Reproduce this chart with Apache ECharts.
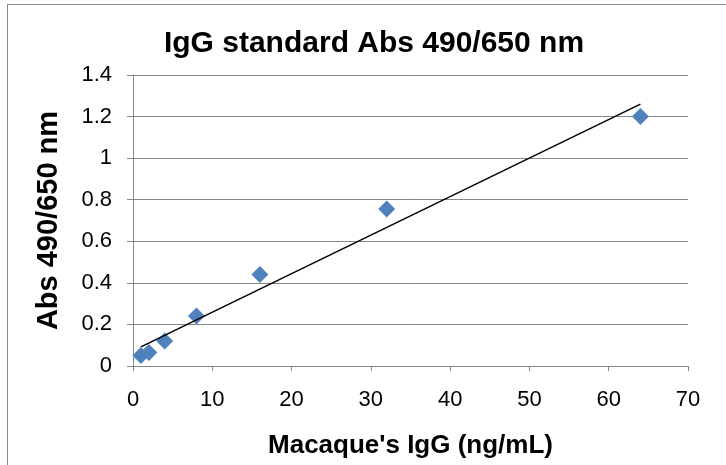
<!DOCTYPE html>
<html><head><meta charset="utf-8">
<script src="https://cdn.jsdelivr.net/npm/echarts@6/dist/echarts.min.js"></script>
<style>html,body{margin:0;padding:0;background:#fff}#c{width:726px;height:465px}
#frame{position:absolute;left:7px;top:4px;width:760px;height:520px;border:1px solid #8c8c8c;pointer-events:none}</style>
</head><body><div id="c"></div><div id="frame"></div>
<script>
const concentrations = [1, 2, 4, 8, 16, 32, 64];
const absorbance = [0.05, 0.065, 0.12, 0.24, 0.44, 0.755, 1.2];
const xTicks = [0, 10, 20, 30, 40, 50, 60, 70];
const yTicks = [0, 0.2, 0.4, 0.6, 0.8, 1, 1.2, 1.4];

// linear least-squares trendline from the data
const n = concentrations.length;
const mx = concentrations.reduce((a,b)=>a+b,0)/n;
const my = absorbance.reduce((a,b)=>a+b,0)/n;
let sxy=0, sxx=0;
for (let i=0;i<n;i++){ sxy+=(concentrations[i]-mx)*(absorbance[i]-my); sxx+=(concentrations[i]-mx)**2; }
const slope = sxy/sxx, intercept = my - slope*mx;
const xMin = Math.min(...concentrations), xMax = Math.max(...concentrations);
const trend = [[xMin, intercept+slope*xMin],[xMax, intercept+slope*xMax]];

const chart = echarts.init(document.getElementById('c'), null, {renderer:'canvas'});
const font = 'Liberation Sans, Arial, sans-serif';
chart.setOption({
  animation:false,
  backgroundColor:'#fff',
  title:{text:'IgG standard Abs 490/650 nm', left:369, top:24, textAlign:'center',
    textStyle:{fontFamily:font, fontSize:30, fontWeight:'bold', color:'#000'}},
  grid:{left:133, right:38, top:75, bottom:99, containLabel:false},
  xAxis:{type:'value', min:0, max:70, interval:10,
    name:"Macaque's IgG (ng/mL)", nameLocation:'middle', nameGap:67,
    nameTextStyle:{fontFamily:font, fontSize:26, fontWeight:'bold', color:'#000'},
    axisLine:{show:true, lineStyle:{color:'#868686', width:1}},
    axisTick:{show:true, length:5, lineStyle:{color:'#868686'}},
    axisLabel:{fontFamily:font, fontSize:22, color:'#000', margin:23,
      formatter:v=>xTicks.includes(v)?String(v):''},
    splitLine:{show:false}},
  yAxis:{type:'value', min:0, max:1.4, interval:0.2,
    name:'Abs 490/650 nm', nameLocation:'middle', nameGap:70, nameRotate:90,
    nameTextStyle:{fontFamily:font, fontSize:29, fontWeight:'bold', color:'#000'},
    axisLine:{show:true, lineStyle:{color:'#868686', width:1}},
    axisTick:{show:true, length:6, lineStyle:{color:'#868686'}},
    axisLabel:{fontFamily:font, fontSize:22, color:'#000', margin:21,
      formatter:v=>{const t=yTicks.find(y=>Math.abs(y-v)<1e-9); return t===undefined?'':String(t);}},
    splitLine:{show:true, lineStyle:{color:'#868686', width:1}}},
  series:[
    {type:'line', data:trend, symbol:'none', lineStyle:{color:'#000', width:1.5}, z:3, silent:true},
    {type:'scatter', data:concentrations.map((x,i)=>[x,absorbance[i]]), symbol:'diamond', symbolSize:[17,17],
      itemStyle:{color:'#4F81BD', opacity:1}, z:2}
  ]
});
</script></body></html>
